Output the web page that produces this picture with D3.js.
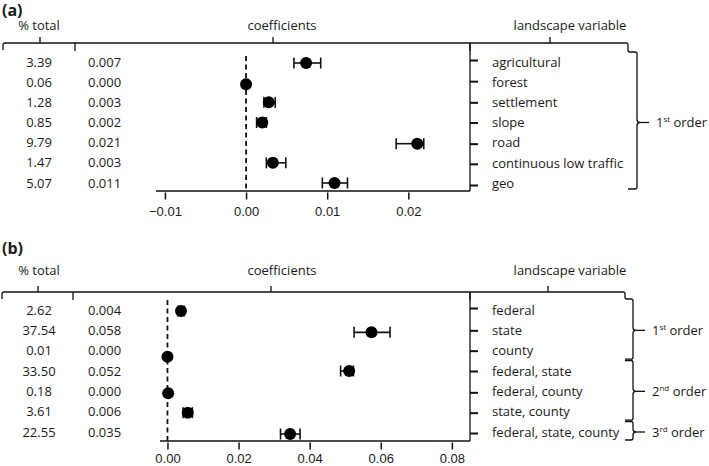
<!DOCTYPE html>
<html>
<head>
<meta charset="utf-8">
<script src="https://cdn.jsdelivr.net/npm/d3@7/dist/d3.min.js"></script>
<style>
  html, body { margin: 0; padding: 0; background: #fff; }
  svg { display: block; }
  text { font-family: "Open Sans", "Noto Sans", sans-serif; fill: #1a1a1a; }
  .tick text { font-family: "Liberation Sans", Arial, sans-serif; }
</style>
</head>
<body>
<svg id="chart" width="709" height="466"></svg>
<script>
// ---------- Panel (a) data ----------
const catsA = ["agricultural", "forest", "settlement", "slope", "road", "continuous low traffic", "geo"];
const pctA = ["3.39", "0.06", "1.28", "0.85", "9.79", "1.47", "5.07"];
const coefLabA = ["0.007", "0.000", "0.003", "0.002", "0.021", "0.003", "0.011"];
const estA = [0.0074, 0.0000, 0.0028, 0.0020, 0.0211, 0.0033, 0.0109];
const lowA = [0.0059, -0.0002, 0.0022, 0.0013, 0.0185, 0.0025, 0.0094];
const highA = [0.0092, 0.0002, 0.0036, 0.0025, 0.0219, 0.0049, 0.0125];
const ticksA = [-0.01, 0.00, 0.01, 0.02];
const domainA = [-0.0111, 0.0276];

// ---------- Panel (b) data ----------
const catsB = ["federal", "state", "county", "federal, state", "federal, county", "state, county", "federal, state, county"];
const pctB = ["2.62", "37.54", "0.01", "33.50", "0.18", "3.61", "22.55"];
const coefLabB = ["0.004", "0.058", "0.000", "0.052", "0.000", "0.006", "0.035"];
const estB = [0.0038, 0.0574, 0.0000, 0.0511, 0.0002, 0.0057, 0.0345];
const lowB = [0.0030, 0.0525, -0.0002, 0.0487, 0.0000, 0.0044, 0.0318];
const highB = [0.0047, 0.0626, 0.0002, 0.0523, 0.0004, 0.0070, 0.0373];
const ticksB = [0.00, 0.02, 0.04, 0.06, 0.08];
const domainB = [-0.0021, 0.0851];

// ---------- Order braces ----------
const ordersA = [{ sup: "st", first: 0, last: 6 }];
const ordersB = [
  { sup: "st", first: 0, last: 2 },
  { sup: "nd", first: 3, last: 5 },
  { sup: "rd", first: 6, last: 6 }
];

const svg = d3.select("#chart");

function drawPanel(o) {
  const g = svg.append("g");
  const x = d3.scaleLinear().domain(o.domain).range([o.plotLeft, o.plotRight]);
  const y = d3.scalePoint().domain(o.cats).range([o.rowTop, o.rowBottom]);

  // panel label
  g.append("text").attr("x", 2).attr("y", o.labelY)
    .attr("font-size", 16).attr("font-weight", "bold").text(o.label);

  // headers
  const hdr = [
    { t: "% total", tx: 39, ck: o.ck[0] },
    { t: "coefficients", tx: 282, ck: o.ck[1] },
    { t: "landscape variable", tx: 570, ck: o.ck[2] }
  ];
  hdr.forEach(h => {
    g.append("text").attr("x", h.tx).attr("y", o.headY)
      .attr("text-anchor", "middle").attr("font-size", 13).text(h.t);
    g.append("line").attr("x1", h.ck).attr("x2", h.ck)
      .attr("y1", o.hy).attr("y2", o.hy - 6)
      .attr("stroke", "#111").attr("stroke-width", 1.3);
  });

  // header bracket line
  const hy = o.hy;
  const xr = o.braceXl;
  const p = d3.path();
  p.moveTo(o.bLeft, hy + 7);
  p.lineTo(o.bLeft, hy + 2);
  p.quadraticCurveTo(o.bLeft, hy, o.bLeft + 2, hy);
  p.lineTo(xr - 2, hy);
  p.quadraticCurveTo(xr, hy, xr, hy + 2);
  p.lineTo(xr, o.braceTop - 2);
  p.quadraticCurveTo(xr, o.braceTop, xr + 2, o.braceTop);
  g.append("path").attr("d", p.toString()).attr("fill", "none")
    .attr("stroke", "#111").attr("stroke-width", 1.3);
  [o.bMid, o.plotRight].forEach(xx => {
    g.append("line").attr("x1", xx).attr("x2", xx).attr("y1", hy).attr("y2", hy + 8)
      .attr("stroke", "#111").attr("stroke-width", 1.3);
  });

  // braces for interaction order
  o.orders.forEach((od, i) => {
    const yt = i === 0 ? o.braceTop : y(o.cats[od.first]) - 10.5;
    const yb = od.last === o.cats.length - 1 ? o.braceBottom : y(o.cats[od.last]) + 8.5;
    const ym = (y(o.cats[od.first]) + y(o.cats[od.last])) / 2;
    const xv = o.braceXv, xl = o.braceXl;
    const bp = d3.path();
    if (i === 0) {
      bp.moveTo(xl + 2, yt);
    } else {
      bp.moveTo(xl, yt);
    }
    bp.lineTo(xv - 2, yt);
    bp.quadraticCurveTo(xv, yt, xv, yt + 2);
    bp.lineTo(xv, ym - 3);
    bp.quadraticCurveTo(xv, ym, xv + 3, ym);
    bp.quadraticCurveTo(xv, ym, xv, ym + 3);
    bp.lineTo(xv, yb - 2);
    bp.quadraticCurveTo(xv, yb, xv - 2, yb);
    bp.lineTo(xl, yb);
    g.append("path").attr("d", bp.toString()).attr("fill", "none")
      .attr("stroke", "#111").attr("stroke-width", 1.3);
    g.append("line").attr("x1", xv + 3).attr("x2", xv + 12).attr("y1", ym).attr("y2", ym)
      .attr("stroke", "#111").attr("stroke-width", 1.3);
    const t = g.append("text").attr("x", xv + 19).attr("y", ym).attr("dy", "0.35em")
      .attr("font-size", 13);
    t.append("tspan").text(String(i + 1));
    t.append("tspan").attr("font-size", 8).attr("dy", -5).text(od.sup);
    t.append("tspan").attr("dy", 5).text(" order");
  });

  // columns of numbers
  g.selectAll(".pct").data(o.cats).join("text")
    .attr("x", 39).attr("y", d => y(d)).attr("dy", "0.35em")
    .attr("text-anchor", "middle").attr("font-size", 13)
    .text((d, i) => o.pct[i]);
  g.selectAll(".coef").data(o.cats).join("text")
    .attr("x", 88).attr("y", d => y(d)).attr("dy", "0.35em")
    .attr("font-size", 13)
    .text((d, i) => o.coefLab[i]);

  // right vertical axis line
  g.append("line").attr("x1", o.plotRight).attr("x2", o.plotRight)
    .attr("y1", hy).attr("y2", o.axisY)
    .attr("stroke", "#111").attr("stroke-width", 1.3);
  // right category axis
  const ay = g.append("g").attr("transform", `translate(${o.plotRight},0)`)
    .call(d3.axisRight(y).tickSize(8).tickPadding(14));
  ay.select(".domain").remove();
  ay.selectAll(".tick line").attr("stroke", "#111").attr("stroke-width", 2)
    .attr("transform", d => `translate(0,${o.tickShift[o.cats.indexOf(d)] || 0})`);
  ay.selectAll(".tick text").style("font-family", '"Open Sans", "Noto Sans", sans-serif')
    .attr("font-size", 13).attr("fill", "#1a1a1a");

  // bottom axis line
  g.append("line").attr("x1", o.axisLeft).attr("x2", o.plotRight)
    .attr("y1", o.axisY).attr("y2", o.axisY)
    .attr("stroke", "#111").attr("stroke-width", 1.3);
  const ax = g.append("g").attr("transform", `translate(0,${o.axisY + 1.5})`)
    .call(d3.axisBottom(x).tickValues(o.ticks).tickSize(7).tickPadding(o.tickPad)
      .tickFormat(d3.format(".2f")));
  ax.select(".domain").remove();
  ax.selectAll(".tick line").attr("stroke", "#111").attr("stroke-width", 1.5);
  ax.selectAll(".tick text").attr("font-size", 13).attr("fill", "#1a1a1a");

  // zero dashed line
  g.append("line").attr("x1", x(0)).attr("x2", x(0))
    .attr("y1", o.dashTop).attr("y2", o.axisY)
    .attr("stroke", "#111").attr("stroke-width", 1.8)
    .attr("stroke-dasharray", "5,3.5");

  // error bars
  const eb = g.append("g").attr("stroke", "#111").attr("stroke-width", 1.6);
  o.cats.forEach((c, i) => {
    const yy = y(c) + o.dotShift[i];
    eb.append("line").attr("x1", x(o.low[i])).attr("x2", x(o.high[i])).attr("y1", yy).attr("y2", yy);
    [o.low[i], o.high[i]].forEach(v => {
      eb.append("line").attr("x1", x(v)).attr("x2", x(v)).attr("y1", yy - 5.5).attr("y2", yy + 5.5);
    });
  });
  // points
  g.selectAll(".pt").data(o.cats).join("circle")
    .attr("cx", (d, i) => x(o.est[i]))
    .attr("cy", (d, i) => y(d) + o.dotShift[i])
    .attr("r", 6).attr("fill", "#000");
}

drawPanel({
  label: "(a)", cats: catsA, pct: pctA, coefLab: coefLabA,
  est: estA, low: lowA, high: highA, ticks: ticksA, domain: domainA,
  plotLeft: 156, plotRight: 470, axisLeft: 156,
  rowTop: 62, rowBottom: 183, axisY: 191, tickPad: 7,
  hy: 43, labelY: 16, headY: 30, bLeft: 3, bMid: 75, ck: [40, 273, 550],
  braceXl: 628, braceXv: 637, braceTop: 52, braceBottom: 189,
  dashTop: 56, orders: ordersA,
  tickShift: [-2, -1, 0, 0, 1, 1, 2],
  dotShift: [1, 2, 0, 0, 1, 0, 0]
});

drawPanel({
  label: "(b)", cats: catsB, pct: pctB, coefLab: coefLabB,
  est: estB, low: lowB, high: highB, ticks: ticksB, domain: domainB,
  plotLeft: 160, plotRight: 470, axisLeft: 160,
  rowTop: 310, rowBottom: 432, axisY: 441, tickPad: 4,
  hy: 292, labelY: 254, headY: 275, bLeft: 2, bMid: 73, ck: [38, 271, 548],
  braceXl: 625, braceXv: 633, braceTop: 299, braceBottom: 440,
  dashTop: 300, orders: ordersB,
  tickShift: [-2, 0, 0, 0, 1, 1, 1],
  dotShift: [1, 2, 6, 0, 2, 1, 2]
});
</script>
</body>
</html>
